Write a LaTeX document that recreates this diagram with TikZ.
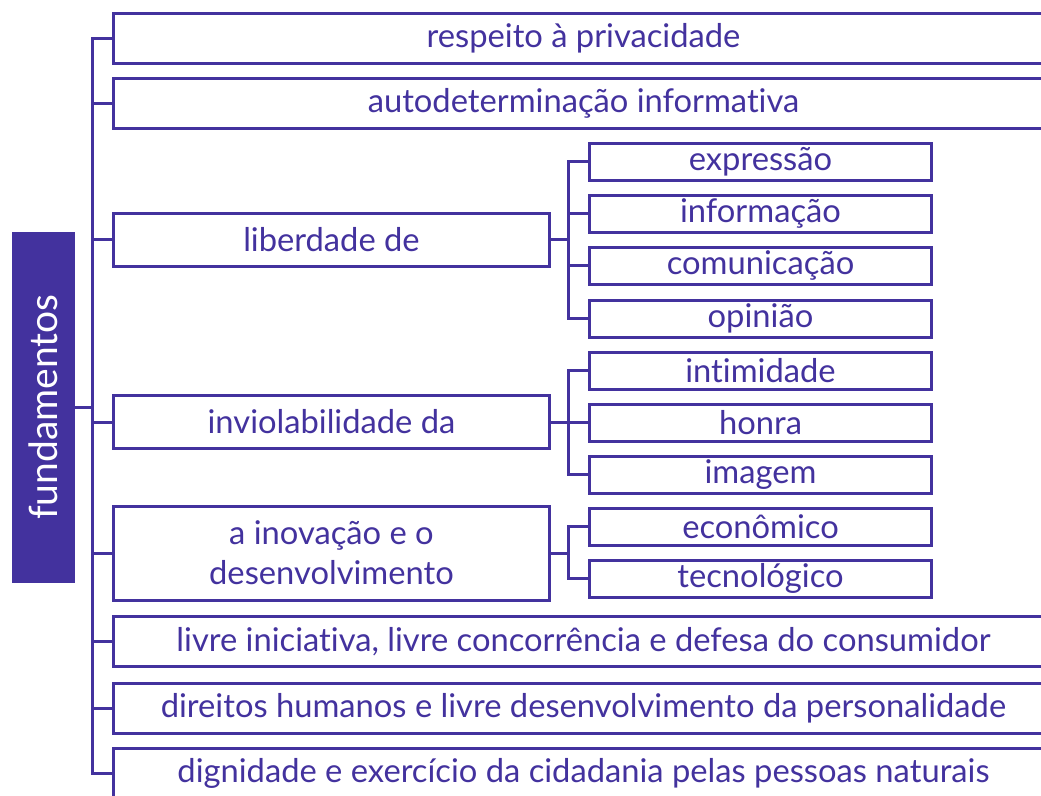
\documentclass[tikz,border=0pt]{standalone}
\usepackage{fontspec}
\setmainfont{Lato}[Ligatures=NoCommon]
\definecolor{mainc}{RGB}{67,50,158}
\begin{document}
\begin{tikzpicture}[x=1pt,y=-1pt,
  line width=3pt, line join=miter, line cap=rect,
  every node/.style={font=\fontsize{32.7}{40}\selectfont, text=mainc, inner sep=0pt},
  bigbox/.style={draw=mainc, anchor=west, minimum width=940, minimum height=50},
  midbox/.style={draw=mainc, anchor=west, minimum width=436, minimum height=53},
  subbox/.style={draw=mainc, anchor=west, minimum width=342, minimum height=37},
  conn/.style={draw=mainc}]
\useasboundingbox (0,0) rectangle (1041,795);
\clip (0,0) rectangle (1041,795);
\coordinate (tx) at (92,0);
\coordinate (sx) at (568,0);
% root
\node[fill=mainc, minimum width=63, minimum height=351, anchor=north west] (fund) at (10,230) {};
\node[rotate=90, text=white, font=\fontsize{39}{40}\selectfont] (fundt) at (fund.center) {fundamentos};
% main boxes
\node[bigbox] (r1) at (112,38) {respeito à privacidade};
\node[bigbox] (r2) at (112,103.5) {autodeterminação informativa};
\node[midbox] (lib) at (112,239.5) {liberdade de};
\node[midbox] (inv) at (112,422) {inviolabilidade da};
\node[midbox, minimum height=94, align=center] (ino) at (112,553) {a inovação e o\\desenvolvimento};
\node[bigbox] (r6) at (112,641.5) {livre iniciativa, livre concorrência e defesa do consumidor};
\node[bigbox] (r7) at (112,708) {direitos humanos e livre desenvolvimento da personalidade};
\node[bigbox] (r8) at (112,773) {dignidade e exercício da cidadania pelas pessoas naturais};
% sub boxes
\node[subbox] (s1) at (588,161.5) {expressão};
\node[subbox] (s2) at (588,213.5) {informação};
\node[subbox] (s3) at (588,265.5) {comunicação};
\node[subbox] (s4) at (588,318.5) {opinião};
\node[subbox] (s5) at (588,370.5) {intimidade};
\node[subbox] (s6) at (588,422.5) {honra};
\node[subbox] (s7) at (588,474.5) {imagem};
\node[subbox] (s8) at (588,526.5) {econômico};
\node[subbox] (s9) at (588,578.5) {tecnológico};
% trunk
\draw[conn] (r1.west) -- (r1.west -| tx) -- (r8.west -| tx) -- (r8.west);
\draw[conn] (fund.east) -- (fund.east -| tx);
\foreach \n in {r2,lib,inv,ino,r6,r7} \draw[conn] (\n.west) -- (\n.west -| tx);
% sub trunks
\draw[conn] (lib.east) -- (lib.east -| sx);
\draw[conn] (s1.west) -- (s1.west -| sx) -- (s4.west -| sx) -- (s4.west);
\draw[conn] (s2.west) -- (s2.west -| sx);
\draw[conn] (s3.west) -- (s3.west -| sx);
\draw[conn] (inv.east) -- (inv.east -| sx);
\draw[conn] (s5.west) -- (s5.west -| sx) -- (s7.west -| sx) -- (s7.west);
\draw[conn] (s6.west) -- (s6.west -| sx);
\draw[conn] (ino.east) -- (ino.east -| sx);
\draw[conn] (s8.west) -- (s8.west -| sx) -- (s9.west -| sx) -- (s9.west);
\end{tikzpicture}
\end{document}
